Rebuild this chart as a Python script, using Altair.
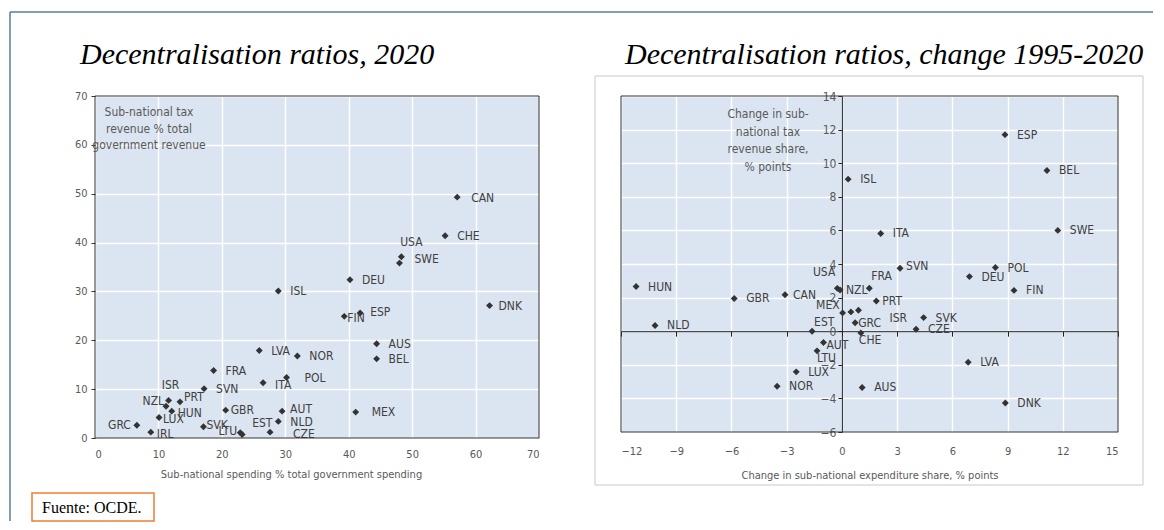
import altair as alt
import pandas as pd

# ---------------- data: left panel (2020) ----------------
countries_2020 = ["CAN", "CHE", "USA", "SWE", "DEU", "ISL", "DNK", "FIN", "ESP", "AUS", "BEL",
                  "LVA", "NOR", "FRA", "ITA", "POL", "SVN", "ISR", "NZL", "PRT", "HUN", "LUX",
                  "GRC", "IRL", "SVK", "GBR", "LTU", "EST", "CZE", "NLD", "AUT", "MEX"]
spending_2020 = [57.1, 55.2, 48.3, 48.0, 40.2, 28.9, 62.2, 39.3, 41.8, 44.4, 44.4,
                 25.9, 31.9, 18.7, 26.5, 30.2, 17.2, 11.6, 11.2, 13.4, 12.1, 10.1,
                 6.6, 8.8, 17.1, 20.6, 22.9, 23.2, 27.6, 28.9, 29.5, 41.1]
tax_2020 = [49.3, 41.4, 37.1, 35.8, 32.4, 30.1, 27.1, 24.9, 25.6, 19.3, 16.2,
            17.9, 16.8, 13.8, 11.3, 12.4, 10.1, 7.7, 6.5, 7.4, 5.5, 4.2,
            2.6, 1.2, 2.3, 5.7, 1.1, 0.7, 1.2, 3.4, 5.5, 5.3]

# ---------------- data: right panel (change 1995-2020) ----------------
countries_chg = ["ESP", "BEL", "ISL", "ITA", "SWE", "SVN", "POL", "DEU", "FIN", "HUN", "FRA",
                 "USA", "NZL", "CAN", "GBR", "PRT", "MEX", "IRL", "ISR", "GRC", "EST", "CHE",
                 "SVK", "CZE", "NLD", "AUT", "LTU", "LUX", "NOR", "AUS", "LVA", "DNK"]
spending_chg = [8.86, 11.14, 0.34, 2.11, 11.73, 3.16, 8.34, 6.93, 9.35, -11.18, 1.49,
                -0.25, -0.1, -3.09, -5.85, 1.87, 0.04, 0.49, 0.9, 0.72, -1.62, 1.03,
                4.44, 4.03, -10.15, -1.0, -1.35, -2.48, -3.52, 1.1, 6.86, 8.88]
tax_chg = [11.7, 9.57, 9.05, 5.82, 6.0, 3.75, 3.79, 3.25, 2.43, 2.66, 2.56,
           2.55, 2.45, 2.17, 1.95, 1.8, 1.09, 1.15, 1.25, 0.5, 0.0, -0.1,
           0.81, 0.12, 0.34, -0.67, -1.17, -2.42, -3.28, -3.35, -1.85, -4.27]
unlabelled_chg = ["IRL"]

x_ticks_2020 = list(range(0, 71, 10))
y_ticks_2020 = list(range(0, 71, 10))
x_ticks_chg = list(range(-12, 16, 3))
y_ticks_chg = list(range(-6, 15, 2))

title_left = "Decentralisation ratios, 2020"
title_right = "Decentralisation ratios, change 1995-2020"
xtitle_left = "Sub-national spending % total government spending"
xtitle_right = "Change in sub-national expenditure share, % points"
ytitle_left = "Sub-national tax\nrevenue % total\ngovernment revenue"
ytitle_right = "Change in sub-\nnational tax\nrevenue share,\n% points"
source_text = "Fuente: OCDE."

# ---------------- styles ----------------
FONT = "Liberation Sans Narrow, DejaVu Sans Condensed, Arial Narrow, sans-serif"
SERIF = "Liberation Serif, Times New Roman, serif"
PT = "#333333"
LAB = "#404040"
AX = "#595959"
BG = "#dbe5f1"

W1, H1 = 444, 342
W2, H2 = 497, 336
GAP = 82

df20 = pd.DataFrame({"country": countries_2020, "x": spending_2020, "y": tax_2020})
dfch = pd.DataFrame({"country": countries_chg, "x": spending_chg, "y": tax_chg})
one = alt.InlineData(values=[{"k": 1}])

# label offsets (dx, dy, align)
off_left = {
    "CAN": (14, 1, "left"), "SWE": (15, -4, "left"), "USA": (10, -15, "center"),
    "FIN": (3, 2, "left"), "ESP": (10, -1, "left"), "DNK": (9, 0, "left"),
    "POL": (18, 1, "left"), "MEX": (16, 0, "left"),
    "ISR": (2, -15, "center"), "NZL": (-2, -5, "right"), "PRT": (4, -5, "left"),
    "HUN": (6, 2, "left"), "LUX": (4, 2, "left"), "GRC": (-6, 0, "right"),
    "IRL": (6, 2, "left"), "SVK": (3, -2, "left"), "GBR": (5, 0, "left"),
    "LTU": (-3, -2, "right"), "EST": (10, -12, "left"), "CZE": (23, 2, "left"),
    "NLD": (12, 1, "left"), "AUT": (8, -2, "left"), "ITA": (12, 2, "left"),
}
off_right = {
    "SVN": (6, -2, "left"), "FRA": (2, -12, "left"), "USA": (-2, -16, "right"),
    "NZL": (6, 0, "left"), "CAN": (8, 0, "left"), "PRT": (6, 0, "left"),
    "MEX": (-3, -8, "right"), "ISR": (31, 8, "left"), "GRC": (3, 0, "left"),
    "EST": (2, -9, "left"), "CHE": (-2, 7, "left"), "AUT": (3, 3, "left"),
    "LTU": (0, 7, "left"),
}


def label_layers(df, sx, sy, offsets, default, skip=()):
    groups = {}
    for c in df["country"]:
        if c in skip:
            continue
        groups.setdefault(offsets.get(c, default), []).append(c)
    layers = []
    for (dx, dy, align), members in groups.items():
        layers.append(
            alt.Chart(df)
            .transform_filter(alt.FieldOneOfPredicate(field="country", oneOf=members))
            .mark_text(dx=dx, dy=dy, align=align, baseline="middle", font=FONT,
                       fontSize=12, color=LAB)
            .encode(x=alt.X("x:Q", scale=sx, axis=None),
                    y=alt.Y("y:Q", scale=sy, axis=None),
                    text="country:N")
        )
    return layers


def plot_border(w, h):
    return alt.Chart(one).mark_rect(fillOpacity=0, stroke="#333333", strokeWidth=1).encode(
        x=alt.value(0), x2=alt.value(w), y=alt.value(0), y2=alt.value(h))


# ---------------- left panel ----------------
sx1 = alt.Scale(domain=[0, 70], nice=False)
sy1 = alt.Scale(domain=[0, 70], nice=False)

pts1 = alt.Chart(df20).mark_point(shape="diamond", filled=True, size=48, color=PT, opacity=1).encode(
    x=alt.X("x:Q", scale=sx1,
            axis=alt.Axis(values=x_ticks_2020, grid=True, ticks=False, domain=False,
                          labelPadding=10, title=xtitle_left, titlePadding=9, titleX=196)),
    y=alt.Y("y:Q", scale=sy1,
            axis=alt.Axis(values=y_ticks_2020, grid=True, ticks=True, tickSize=4,
                          tickColor="#333333", domain=False, labelPadding=4, title=None)),
)

frame_top = alt.Chart(one).mark_rule(color="#5b7ba6", strokeWidth=1.5).encode(
    x=alt.value(-85), x2=alt.value(1058), y=alt.value(-84))
frame_left = alt.Chart(one).mark_rule(color="#5b7ba6", strokeWidth=1.5).encode(
    x=alt.value(-85), y=alt.value(-84), y2=alt.value(425))
t_left = alt.Chart(one).mark_text(font=SERIF, fontStyle="italic", fontSize=30, align="left",
                                  baseline="alphabetic", color="black").encode(
    x=alt.value(-15), y=alt.value(-32), text=alt.value(title_left))
yt_left = alt.Chart(one).mark_text(font=FONT, fontSize=12, align="center", baseline="middle",
                                   color=AX, lineBreak="\n", lineHeight=16.5).encode(
    x=alt.value(54), y=alt.value(16), text=alt.value(ytitle_left))
src_box = alt.Chart(one).mark_rect(fillOpacity=0, stroke="#ed7d31", strokeWidth=1.5).encode(
    x=alt.value(-63), x2=alt.value(59), y=alt.value(397), y2=alt.value(425))
src_txt = alt.Chart(one).mark_text(font=SERIF, fontSize=16, align="left", baseline="alphabetic",
                                   color="black").encode(
    x=alt.value(-53), y=alt.value(417), text=alt.value(source_text))

left = alt.layer(
    pts1, *label_layers(df20, sx1, sy1, off_left, (12, 0, "left")),
    plot_border(W1, H1),
    frame_top, frame_left, t_left, yt_left, src_box, src_txt,
).resolve_axis(x="independent", y="independent").properties(width=W1, height=H1)

# ---------------- right panel ----------------
sx2 = alt.Scale(domain=[-12, 15], nice=False)
sy2 = alt.Scale(domain=[-6, 14], nice=False)

grey_frame = alt.Chart(one).mark_rect(fillOpacity=0, stroke="#c8c8c8", strokeWidth=1).encode(
    x=alt.value(-26), x2=alt.value(522), y=alt.value(-20), y2=alt.value(389))

pts2 = alt.Chart(dfch).mark_point(shape="diamond", filled=True, size=48, color=PT, opacity=1).encode(
    x=alt.X("x:Q", scale=sx2,
            axis=alt.Axis(values=x_ticks_chg, grid=True, ticks=False, domain=False,
                          labelPadding=13, title=xtitle_right, titlePadding=13)),
    y=alt.Y("y:Q", scale=sy2,
            axis=alt.Axis(values=y_ticks_chg, grid=True, labels=False, ticks=False,
                          domain=False, title=None)),
)
zero_axes = alt.Chart(dfch).mark_point(opacity=0).encode(
    x=alt.X("x:Q", scale=sx2,
            axis=alt.Axis(orient="bottom", offset=-H2 * 6 / 20, values=x_ticks_chg, grid=False,
                          labels=False, ticks=True, tickSize=5, tickColor="#222222",
                          domain=True, domainColor="#222222", title=None)),
    y=alt.Y("y:Q", scale=sy2,
            axis=alt.Axis(orient="left", offset=-W2 * 12 / 27, values=y_ticks_chg, grid=False,
                          labels=True, ticks=True, tickSize=4, tickColor="#222222",
                          domain=True, domainColor="#222222", labelPadding=2,
                          labelFontSize=12, title=None)),
)
t_right = alt.Chart(one).mark_text(font=SERIF, fontStyle="italic", fontSize=30, align="left",
                                   baseline="alphabetic", color="black").encode(
    x=alt.value(4), y=alt.value(-32), text=alt.value(title_right))
yt_right = alt.Chart(one).mark_text(font=FONT, fontSize=12, align="center", baseline="middle",
                                    color=AX, lineBreak="\n", lineHeight=17.5).encode(
    x=alt.value(147), y=alt.value(18), text=alt.value(ytitle_right))

right = alt.layer(
    grey_frame, pts2, zero_axes,
    *label_layers(dfch, sx2, sy2, off_right, (12, 0, "left"), skip=unlabelled_chg),
    plot_border(W2, H2),
    t_right, yt_right,
).resolve_axis(x="independent", y="independent").properties(width=W2, height=H2)

chart = alt.hconcat(left, right, spacing=GAP, bounds="flush").properties(
    padding={"left": 0, "top": 2, "right": 0, "bottom": 0},
    background="white",
).configure_axis(
    labelFont=FONT, labelFontSize=11, labelColor=AX,
    titleFont=FONT, titleFontSize=11, titleFontWeight="normal", titleColor=AX,
    gridColor="white", gridWidth=1.4,
).configure_view(
    stroke="#333333", strokeWidth=1, fill=BG
)

chart.save("out.html", embed_options={"renderer": "svg", "actions": False})
